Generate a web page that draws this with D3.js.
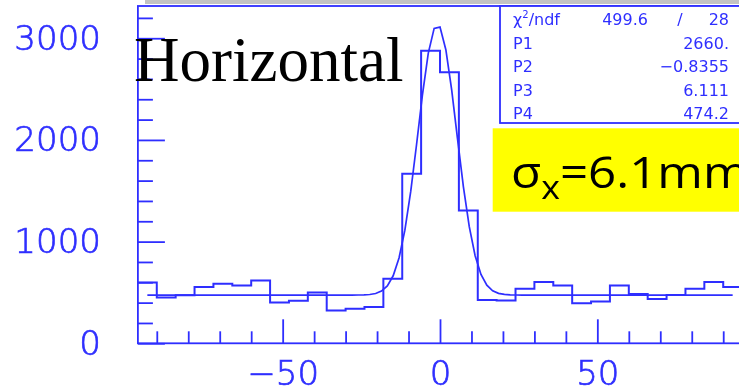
<!DOCTYPE html>
<html>
<head>
<meta charset="utf-8">
<script src="https://cdn.jsdelivr.net/npm/d3@7"></script>
<style>
  html, body { margin: 0; padding: 0; background: #fff; overflow: hidden; }
  svg { display: block; }
</style>
</head>
<body>
<svg id="chart" width="739" height="390"></svg>
<script>
// Beam profile histogram: bin edges (mm) and counts per bin
const binEdges = [-96, -90, -84, -78, -72, -66, -60, -54, -48, -42, -36, -30, -24, -18, -12, -6,
                  0, 6, 12, 18, 24, 30, 36, 42, 48, 54, 60, 66, 72, 78, 84, 90, 96];
const counts = [598, 450, 472, 553, 585, 569, 618, 401, 418, 500, 323, 339, 356, 636, 1667, 2877,
                2665, 1306, 425, 421, 536, 602, 569, 395, 411, 569, 484, 435, 474, 536, 602, 553];

// Gaussian + constant fit: P1 * exp(-0.5*((x-P2)/P3)^2) + P4
const fitParams = [2660, -0.8355, 6.111, 474.2];
const fitRange = [-93, 93];
const fitPoints = 100;

// Axis ticks
const xMajorTicks = [-50, 0, 50];
const xMinorTicks = [-90, -80, -70, -60, -40, -30, -20, -10, 10, 20, 30, 40, 60, 70, 80, 90];
const yMajorTicks = [0, 1000, 2000, 3000];
const yMinorTicks = [200, 400, 600, 800, 1200, 1400, 1600, 1800, 2200, 2400, 2600, 2800, 3200];

// Fit statistics box
const chi2Text = ["499.6", "/", "28"];
const statLabels = ["P1", "P2", "P3", "P4"];
const statValues = ["2660.", "\u22120.8355", "6.111", "474.2"];

const titleText = "Horizontal";
const sigmaText = { sym: "\u03C3", sub: "x", rest: "=6.1mm" };

const blue = "#2f2fff";
const svg = d3.select("#chart");

svg.append("rect").attr("width", 739).attr("height", 390).attr("fill", "#fff");

const defs = svg.append("defs");
defs.append("filter").attr("id", "soft")
  .attr("x", "-5%").attr("y", "-5%").attr("width", "110%").attr("height", "110%")
  .append("feGaussianBlur").attr("stdDeviation", 0.55);

// slide strip along the top edge
svg.append("rect").attr("x", 145).attr("y", 0).attr("width", 594).attr("height", 4).attr("fill", "#c3c3c3");

const x = d3.scaleLinear().domain([-96, 96]).range([137.9, 742.1]);
const y = d3.scaleLinear().domain([0, 3317]).range([343.3, 6]);

const plot = svg.append("g").attr("filter", "url(#soft)");

// frame
plot.append("rect")
  .attr("x", x(-96)).attr("y", y(3317))
  .attr("width", x(96) - x(-96)).attr("height", y(0) - y(3317))
  .attr("fill", "none").attr("stroke", blue).attr("stroke-width", 1.8);

const labelFont = "'DejaVu Sans', sans-serif";

function styleAxis(g) {
  g.select(".domain").remove();
  g.selectAll(".tick line").attr("stroke", blue).attr("stroke-width", 1.8);
  g.selectAll(".tick text").attr("fill", blue).attr("font-family", labelFont)
    .attr("font-size", 34).attr("font-weight", 200)
    .attr("stroke", blue).attr("stroke-width", 0.7);
}

// x axis (ticks drawn inward)
plot.append("g").attr("transform", `translate(0,${y(0)})`)
  .call(d3.axisBottom(x).tickValues(xMajorTicks).tickSize(-24).tickPadding(17.5)
        .tickFormat(d3.format("d")))
  .call(styleAxis);
plot.append("g").attr("transform", `translate(0,${y(0)})`)
  .call(d3.axisBottom(x).tickValues(xMinorTicks).tickSize(-12).tickFormat(""))
  .call(styleAxis);

// y axis (ticks drawn inward)
plot.append("g").attr("transform", `translate(${x(-96)},0)`)
  .call(d3.axisLeft(y).tickValues(yMajorTicks).tickSize(-27).tickPadding(37)
        .tickFormat(d3.format("d")))
  .call(styleAxis);
plot.append("g").attr("transform", `translate(${x(-96)},0)`)
  .call(d3.axisLeft(y).tickValues(yMinorTicks).tickSize(-15).tickFormat(""))
  .call(styleAxis);

// histogram outline
const histPts = counts.map((c, i) => [binEdges[i], c]);
histPts.push([binEdges[binEdges.length - 1], counts[counts.length - 1]]);
plot.append("path")
  .attr("d", d3.line().x(d => x(d[0])).y(d => y(d[1])).curve(d3.curveStepAfter)(histPts))
  .attr("fill", "none").attr("stroke", blue).attr("stroke-width", 2);

// fit curve
const [p1, p2, p3, p4] = fitParams;
const fitX = d3.range(fitPoints + 1).map(k => fitRange[0] + k * (fitRange[1] - fitRange[0]) / fitPoints);
plot.append("path")
  .attr("d", d3.line().x(d => x(d)).y(d => y(p1 * Math.exp(-0.5 * ((d - p2) / p3) ** 2) + p4))(fitX))
  .attr("fill", "none").attr("stroke", blue).attr("stroke-width", 1.7);

// statistics box
const stats = plot.append("g");
stats.append("rect").attr("x", 500).attr("y", y(3317)).attr("width", 260).attr("height", 123 - y(3317))
  .attr("fill", "#fff").attr("stroke", blue).attr("stroke-width", 1.8);
const statFont = { family: labelFont, size: 16 };
const rowY = [25, 48.5, 72, 95.5, 119];
const chiRow = stats.append("text").attr("x", 513).attr("y", rowY[0])
  .attr("font-family", statFont.family).attr("font-size", statFont.size).attr("fill", blue);
chiRow.append("tspan").text("\u03C7");
chiRow.append("tspan").attr("font-size", 10).attr("dy", -7).text("2");
chiRow.append("tspan").attr("dy", 7).text("/ndf");
stats.append("text").attr("x", 648).attr("y", rowY[0]).attr("text-anchor", "end")
  .attr("font-family", statFont.family).attr("font-size", statFont.size).attr("fill", blue).text(chi2Text[0]);
stats.append("text").attr("x", 680).attr("y", rowY[0]).attr("text-anchor", "middle")
  .attr("font-family", statFont.family).attr("font-size", statFont.size).attr("fill", blue).text(chi2Text[1]);
stats.append("text").attr("x", 729).attr("y", rowY[0]).attr("text-anchor", "end")
  .attr("font-family", statFont.family).attr("font-size", statFont.size).attr("fill", blue).text(chi2Text[2]);
statLabels.forEach((lab, i) => {
  stats.append("text").attr("x", 513).attr("y", rowY[i + 1])
    .attr("font-family", statFont.family).attr("font-size", statFont.size).attr("fill", blue).text(lab);
  stats.append("text").attr("x", 729).attr("y", rowY[i + 1]).attr("text-anchor", "end")
    .attr("font-family", statFont.family).attr("font-size", statFont.size).attr("fill", blue).text(statValues[i]);
});

// title
svg.append("text").attr("x", 134).attr("y", 81)
  .attr("font-family", "'Liberation Serif', 'Times New Roman', serif").attr("font-size", 63)
  .attr("fill", "#000").text(titleText);

// sigma annotation
svg.append("rect").attr("x", 492.7).attr("y", 128.3).attr("width", 246.3).attr("height", 83.4).attr("fill", "#ffff00");
const sig = svg.append("text").attr("transform", "translate(511,188) scale(1.12,1)")
  .attr("font-family", "'Open Sans', sans-serif").attr("font-size", 44).attr("fill", "#000");
sig.append("tspan").text(sigmaText.sym);
sig.append("tspan").attr("font-size", 32).attr("dy", 11).text(sigmaText.sub);
sig.append("tspan").attr("dy", -11).text(sigmaText.rest);
</script>
</body>
</html>
